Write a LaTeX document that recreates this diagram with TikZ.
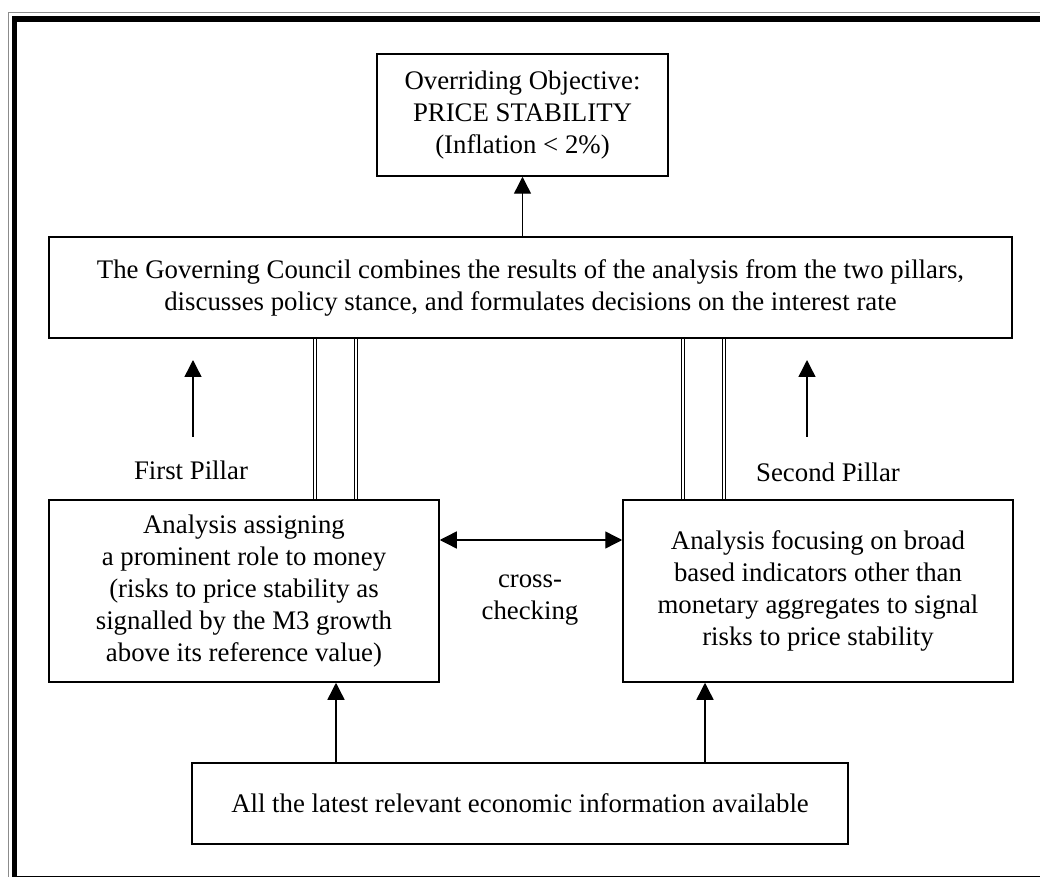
\documentclass[tikz,border=0pt]{standalone}
\usepackage{fontspec}
\setmainfont{Liberation Serif}
\usetikzlibrary{arrows.meta}
\begin{document}
\begin{tikzpicture}[x=0.5pt,y=-0.5pt,
		box/.style={draw,line width=0.75pt,align=center,inner sep=0pt,font=\fontsize{13.4}{16}\selectfont},
		lbl/.style={align=center,inner sep=0pt,font=\fontsize{13.4}{16}\selectfont},
		arr/.style={-{Triangle[length=8.5pt,width=8.5pt]},line width=0.7pt},
		arrs/.style={{Triangle[length=8.5pt,width=8.5pt]}-{Triangle[length=8.5pt,width=8.5pt]},line width=0.7pt},
		pil/.style={double,line width=0.45pt,double distance=0.7pt}]
		\useasboundingbox (0,0) rectangle (1040,877);
		\clip (0,0) rectangle (1040,877);
		% page frame
		\draw[line width=0.5pt,black!45] (8,13) rectangle (1070,900);
		\draw[line width=2.9pt] (14.5,19) rectangle (1060,879);
		% boxes
		\node[box,minimum width=145.5pt,minimum height=61pt] (obj) at (522.5,115) {Overriding Objective:\\PRICE STABILITY\\(Inflation < 2\%)};
		\node[box,minimum width=481.5pt,minimum height=50.5pt] (gov) at (530.5,287.5) {The Governing Council combines the results of the analysis from the two pillars,\\discusses policy stance, and formulates decisions on the interest rate};
		\node[box,minimum width=195pt,minimum height=91pt] (money) at (244,591) {Analysis assigning\\a prominent role to money\\(risks to price stability as\\signalled by the M3 growth\\above its reference value)};
		\node[box,minimum width=195pt,minimum height=91pt] (broad) at (818,591) {Analysis focusing on broad\\based indicators other than\\monetary aggregates to signal\\risks to price stability};
		\node[box,minimum width=328pt,minimum height=40.5pt] (info) at (520,803.5) {All the latest relevant economic information available};
		% labels
		\node[lbl] (first) at (191,470) {First Pillar};
		\node[lbl] (second) at (828,472) {Second Pillar};
		\node[lbl] (cross) at (530,600) {cross-\\checking};
		\coordinate (fa) at (193,437);
		\coordinate (fb) at (193,360);
		\coordinate (sa) at (807,437);
		\coordinate (sb) at (807,360);
		% arrows
		\draw[arr] (gov.north -| obj.south) -- (obj.south);
		\draw[arr] (fa) -- (fb);
		\draw[arr] (sa) -- (sb);
		\draw[arrs] (money.east |- 0,540) -- (broad.west |- 0,540);
		\draw[arr] (info.north -| 336,0) -- (money.south -| 336,0);
		\draw[arr] (info.north -| 705,0) -- (broad.south -| 705,0);
		% pillars
		\draw[pil] (money.north -| 315,0) -- (gov.south -| 315,0);
		\draw[pil] (money.north -| 356,0) -- (gov.south -| 356,0);
		\draw[pil] (broad.north -| 683,0) -- (gov.south -| 683,0);
		\draw[pil] (broad.north -| 724,0) -- (gov.south -| 724,0);
	\end{tikzpicture}
\end{document}
